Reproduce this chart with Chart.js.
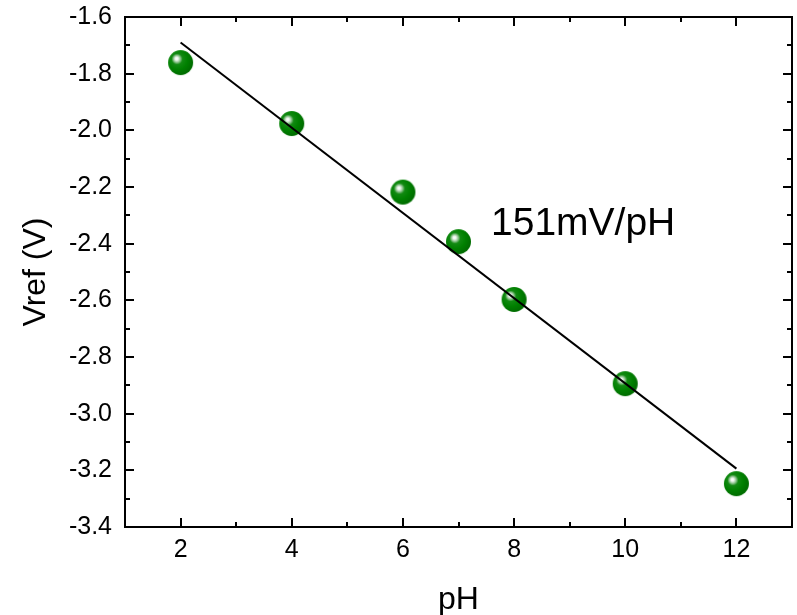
<!DOCTYPE html>
<html>
<head>
<meta charset="utf-8">
<script src="https://cdn.jsdelivr.net/npm/chart.js@4/dist/chart.umd.min.js"></script>
<style>
  html, body { margin: 0; padding: 0; background: #ffffff; }
  #wrap { width: 797px; height: 615px; }
</style>
</head>
<body>
<div id="wrap"><canvas id="c" width="797" height="615"></canvas></div>
<script>
// ---- data ----
const phValues   = [2, 4, 6, 7, 8, 10, 12];
const vrefValues = [-1.761, -1.976, -2.218, -2.393, -2.597, -2.894, -3.247];
const fitX = [2, 12];
const fitY = [-1.690, -3.194];
const xTickValues = [2, 4, 6, 8, 10, 12];
const yTickValues = [-3.4, -3.2, -3.0, -2.8, -2.6, -2.4, -2.2, -2.0, -1.8, -1.6];
const annotationText = '151mV/pH';
const xTitle = 'pH';
const yTitle = 'Vref (V)';

const FONT = '"Liberation Sans", Arial, sans-serif';

function makeSphere(r) {
  const size = Math.ceil(r * 2) + 2;
  const cv = document.createElement('canvas');
  cv.width = size; cv.height = size;
  const g = cv.getContext('2d');
  const c = size / 2;
  const grad = g.createRadialGradient(c - r * 0.33, c - r * 0.33, 0, c - r * 0.2, c - r * 0.2, r * 1.15);
  grad.addColorStop(0.0, '#ffffff');
  grad.addColorStop(0.1, '#f0f7f0');
  grad.addColorStop(0.24, '#8fc48f');
  grad.addColorStop(0.38, '#128a12');
  grad.addColorStop(0.7, '#008000');
  grad.addColorStop(1.0, '#006e00');
  g.beginPath();
  g.arc(c, c, r, 0, Math.PI * 2);
  g.fillStyle = grad;
  g.fill();
  return cv;
}
const sphere = makeSphere(12.5);

const zeroPad = () => ({ left: 0, top: 0, right: 0, bottom: 0 });

const framePlugin = {
  id: 'frame',
  afterDraw(chart) {
    const { ctx, chartArea: a, scales } = chart;
    const xs = scales.x, ys = scales.y;
    ctx.save();
    ctx.strokeStyle = '#000';
    ctx.lineWidth = 2;
    ctx.lineCap = 'butt';
    const majL = 9, minL = 5;
    const xMaj = xTickValues;
    const xMin = [];
    for (let i = 0; i < xMaj.length - 1; i++) xMin.push((xMaj[i] + xMaj[i + 1]) / 2);
    const yMaj = yTickValues;
    const yMin = [];
    for (let i = 0; i < yMaj.length - 1; i++) yMin.push((yMaj[i] + yMaj[i + 1]) / 2);
    ctx.beginPath();
    xMaj.forEach(v => {
      const p = Math.round(xs.getPixelForValue(v));
      ctx.moveTo(p, a.bottom); ctx.lineTo(p, a.bottom - majL);
      ctx.moveTo(p, a.top); ctx.lineTo(p, a.top + majL);
    });
    xMin.forEach(v => {
      const p = Math.round(xs.getPixelForValue(v));
      ctx.moveTo(p, a.bottom); ctx.lineTo(p, a.bottom - minL);
      ctx.moveTo(p, a.top); ctx.lineTo(p, a.top + minL);
    });
    yMaj.forEach(v => {
      const p = Math.round(ys.getPixelForValue(v));
      ctx.moveTo(a.left, p); ctx.lineTo(a.left + majL, p);
      ctx.moveTo(a.right, p); ctx.lineTo(a.right - majL, p);
    });
    yMin.forEach(v => {
      const p = Math.round(ys.getPixelForValue(v));
      ctx.moveTo(a.left, p); ctx.lineTo(a.left + minL, p);
      ctx.moveTo(a.right, p); ctx.lineTo(a.right - minL, p);
    });
    ctx.stroke();
    ctx.strokeRect(a.left, a.top, a.right - a.left, a.bottom - a.top);
    ctx.fillStyle = '#000';
    ctx.font = '39px ' + FONT;
    ctx.textAlign = 'left';
    ctx.textBaseline = 'alphabetic';
    ctx.fillText(annotationText, 491, 235);
    ctx.restore();
  }
};

new Chart(document.getElementById('c'), {
  type: 'scatter',
  data: {
    datasets: [
      {
        type: 'line',
        label: 'fit',
        data: fitX.map((x, i) => ({ x: x, y: fitY[i] })),
        borderColor: '#000000',
        borderWidth: 2,
        pointRadius: 0,
        fill: false,
        tension: 0,
        order: 0
      },
      {
        label: 'Vref',
        data: phValues.map((x, i) => ({ x: x, y: vrefValues[i] })),
        pointStyle: sphere,
        pointRadius: 12.5,
        order: 1
      }
    ]
  },
  options: {
    responsive: false,
    animation: false,
    devicePixelRatio: 1,
    layout: { autoPadding: false, padding: { top: 17, right: 5, left: 0, bottom: 0 } },
    plugins: { legend: { display: false }, tooltip: { enabled: false } },
    scales: {
      x: {
        type: 'linear',
        min: 1, max: 13,
        grid: { display: false, drawTicks: false },
        border: { display: false },
        afterBuildTicks: s => { s.ticks = xTickValues.map(v => ({ value: v })); },
        afterFit: s => { s.height = 88; s.paddingLeft = 0; s.paddingRight = 0; s.getPadding = zeroPad; },
        ticks: {
          color: '#000',
          padding: 8,
          font: { family: FONT, size: 25 },
          callback: v => String(v)
        },
        title: {
          display: true, text: xTitle, color: '#000',
          font: { family: FONT, size: 32, lineHeight: 0.9 },
          padding: { top: 0, bottom: 0 }
        }
      },
      y: {
        type: 'linear',
        min: -3.4, max: -1.6,
        grid: { display: false, drawTicks: false },
        border: { display: false },
        afterBuildTicks: s => { s.ticks = yTickValues.map(v => ({ value: v })); },
        afterFit: s => { s.width = 125; s.paddingTop = 0; s.paddingBottom = 0; s.getPadding = zeroPad; },
        ticks: {
          color: '#000',
          padding: 13,
          font: { family: FONT, size: 25 },
          callback: v => Number(v).toFixed(1)
        },
        title: {
          display: true, text: yTitle, color: '#000',
          font: { family: FONT, size: 32, lineHeight: 1 },
          padding: { top: 20, bottom: 0 }
        }
      }
    }
  },
  plugins: [framePlugin]
});
</script>
</body>
</html>
